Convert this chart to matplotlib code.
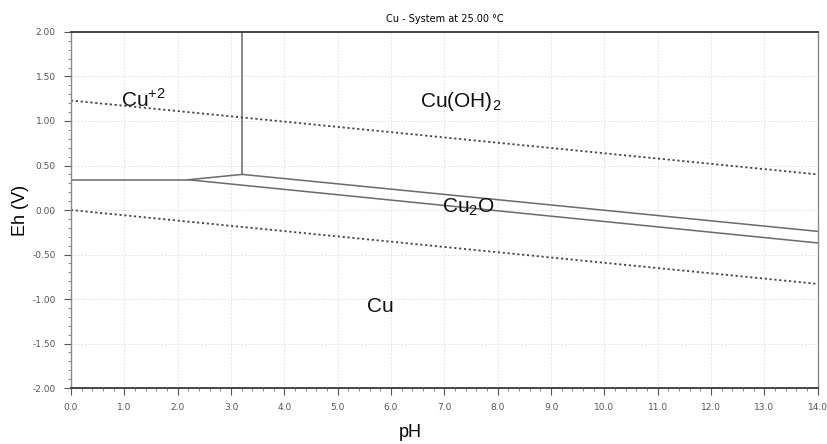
import matplotlib
matplotlib.use("Agg")
import matplotlib.pyplot as plt
from matplotlib.ticker import MultipleLocator

# boundary lines of the Pourbaix diagram (pH, Eh)
cu2_cu_ph = [0.0, 2.2]
cu2_cu_eh = [0.34, 0.34]
cu2_cu2o_ph = [2.2, 3.21]
cu2_cu2o_eh = [0.34, 0.40]
cu2_cuoh2_ph = [3.21, 3.21]
cu2_cuoh2_eh = [0.40, 2.0]
cu2o_cuoh2_ph = [3.21, 14.0]
cu2o_cuoh2_eh = [0.40, -0.24]
cu_cu2o_ph = [2.2, 14.0]
cu_cu2o_eh = [0.34, -0.37]

# water stability limits
o2_ph = [0.0, 14.0]
o2_eh = [1.23, 0.40]
h2_ph = [0.0, 14.0]
h2_eh = [0.0, -0.83]

# region labels (position = left edge / baseline)
labels = ["Cu$^{+2}$", "Cu(OH)$_2$", "Cu$_2$O", "Cu"]
label_ph = [0.93, 6.55, 6.95, 5.55]
label_eh = [1.157, 1.157, -0.022, -1.146]

plt.rcParams["mathtext.fontset"] = "custom"
plt.rcParams["mathtext.rm"] = "Liberation Sans"

fig = plt.figure(figsize=(8.28, 4.44), dpi=100)
ax = fig.add_axes([0.0857, 0.126, 0.902, 0.802])

solid = dict(color="#6a6a6a", lw=1.1)
dotted = dict(color="#444444", lw=1.3, ls=(0, (1.2, 1.5)))

ax.plot(cu2_cu_ph, cu2_cu_eh, **solid)
ax.plot(cu2_cu2o_ph, cu2_cu2o_eh, **solid)
ax.plot(cu2_cuoh2_ph, cu2_cuoh2_eh, **solid)
ax.plot(cu2o_cuoh2_ph, cu2o_cuoh2_eh, **solid)
ax.plot(cu_cu2o_ph, cu_cu2o_eh, **solid)
ax.plot(o2_ph, o2_eh, **dotted)
ax.plot(h2_ph, h2_eh, **dotted)

for txt, x, y in zip(labels, label_ph, label_eh):
    ax.text(x, y, txt, fontsize=15, ha="left", va="baseline", color="#111111",
            family="Liberation Sans")

ax.set_xlim(0, 14)
ax.set_ylim(-2, 2)
ax.xaxis.set_major_locator(MultipleLocator(1))
ax.xaxis.set_minor_locator(MultipleLocator(0.2))
ax.yaxis.set_major_locator(MultipleLocator(0.5))
ax.yaxis.set_minor_locator(MultipleLocator(0.1))
ax.xaxis.set_major_formatter(matplotlib.ticker.FormatStrFormatter("%.1f"))
ax.yaxis.set_major_formatter(matplotlib.ticker.FormatStrFormatter("%.2f"))
ax.tick_params(which="major", length=5, width=0.8, color="#555555",
               labelsize=6.5, labelcolor="#555555", pad=6)
ax.tick_params(which="minor", length=2.5, width=0.6, color="#777777")
ax.grid(True, which="major", color="#dddddd", ls=(0, (2, 2)), lw=0.6)

for side in ["top", "bottom"]:
    ax.spines[side].set_color("#444444")
    ax.spines[side].set_linewidth(1.4)
for side in ["left", "right"]:
    ax.spines[side].set_color("#888888")
    ax.spines[side].set_linewidth(1.0)

ax.set_title("Cu - System at 25.00 °C", fontsize=7, pad=7)
ax.set_xlabel("pH", fontsize=13, va="center", family="Liberation Sans")
ax.set_ylabel("Eh (V)", fontsize=13, va="center", family="Liberation Sans")
ax.xaxis.set_label_coords(0.454, -0.124)
ax.yaxis.set_label_coords(-0.068, 0.5)

fig.savefig("out.png", dpi=100)
